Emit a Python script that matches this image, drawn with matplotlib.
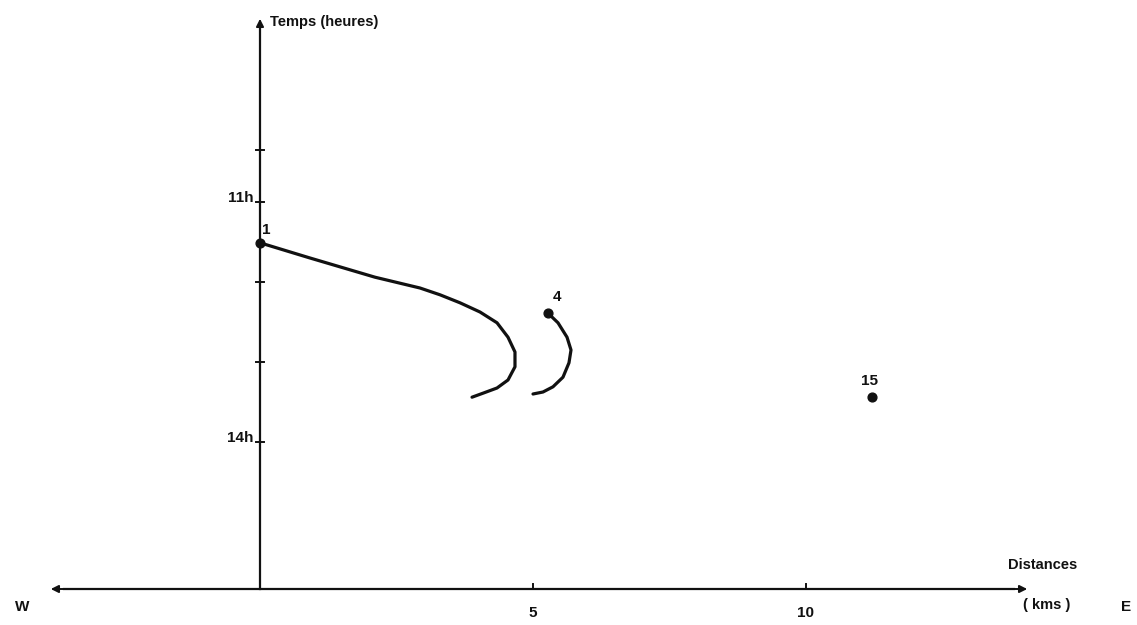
import matplotlib
matplotlib.use("Agg")
import matplotlib.pyplot as plt

##### DATA (distance in km, time in hours)
route1_km = [0.0, 0.916, 2.106, 2.930, 3.297, 3.663, 4.029, 4.341, 4.542, 4.670, 4.670, 4.542, 4.341, 4.084, 3.883]
route1_h = [11.51, 11.70, 11.94, 12.075, 12.16, 12.26, 12.375, 12.51, 12.69, 12.875, 13.06, 13.225, 13.325, 13.39, 13.44]

route4_km = [5.275, 5.458, 5.623, 5.696, 5.659, 5.549, 5.366, 5.183, 5.00]
route4_h = [12.39, 12.51, 12.69, 12.85, 13.01, 13.19, 13.31, 13.375, 13.40]

station_names = ["1", "4", "15"]
station_km = [0.0, 5.275, 11.21]
station_h = [11.51, 12.39, 13.44]

x_ticks = [5, 10]
x_tick_labels = ["5", "10"]
y_ticks = [10.35, 11, 12, 13, 14]
y_tick_labels = {11: "11h", 14: "14h"}

# pixel scale of the original drawing
x0_px, km_px = 260, 54.6
h0_px, h_px = 202, 80.0
W, H = 1137, 625

plt.rcParams['font.family'] = ['Liberation Sans', 'DejaVu Sans']
plt.rcParams['font.weight'] = 'bold'

fig = plt.figure(figsize=(W / 100, H / 100), dpi=100)
ax = fig.add_axes([0, 0, 1, 1])
ax.set_xlim(-x0_px / km_px, (W - x0_px) / km_px)
ax.set_ylim(11 + (H - h0_px) / h_px, 11 - h0_px / h_px)
ax.axis('off')

ink = '#111111'
x_axis_h = 11 + (589 - h0_px) / h_px
y_top_h = 11 + (16 - h0_px) / h_px
x_left = (48 - x0_px) / km_px
x_right = (1030 - x0_px) / km_px

# axes drawn by hand
ax.plot([0, 0], [x_axis_h, y_top_h + 0.1], color=ink, lw=1.6)
ax.annotate('', xy=(0, y_top_h), xytext=(0, y_top_h + 0.2),
            arrowprops=dict(arrowstyle='-|>', color=ink, lw=1.4, mutation_scale=11))
ax.plot([x_left + 0.3, x_right - 0.3], [x_axis_h, x_axis_h], color=ink, lw=1.6)
ax.annotate('', xy=(x_left, x_axis_h), xytext=(x_left + 0.5, x_axis_h),
            arrowprops=dict(arrowstyle='-|>', color=ink, lw=1.4, mutation_scale=11))
ax.annotate('', xy=(x_right, x_axis_h), xytext=(x_right - 0.5, x_axis_h),
            arrowprops=dict(arrowstyle='-|>', color=ink, lw=1.4, mutation_scale=11))

# ticks
for k, lab in zip(x_ticks, x_tick_labels):
    ax.plot([k, k], [x_axis_h, x_axis_h - 0.06], color=ink, lw=1.4)
    ax.text(k, x_axis_h + 0.3, lab, ha='center', va='center', fontsize=11, color=ink)
for t in y_ticks:
    ax.plot([-0.08, 0.08], [t, t], color=ink, lw=1.4)
    if t in y_tick_labels:
        ax.text(-0.12, t - 0.05, y_tick_labels[t], ha='right', va='center', fontsize=11, color=ink)

# trajectories
ax.plot(route1_km, route1_h, color=ink, lw=2.3, solid_capstyle='round', solid_joinstyle='round')
ax.plot(route4_km, route4_h, color=ink, lw=2.3, solid_capstyle='round', solid_joinstyle='round')
ax.scatter(station_km, station_h, s=40, color=ink, zorder=3)
label_offsets = [(0.12, -0.16), (0.17, -0.2), (-0.05, -0.2)]
for name, k, t, (dx, dy) in zip(station_names, station_km, station_h, label_offsets):
    ax.text(k + dx, t + dy, name, ha='center', va='center', fontsize=11, color=ink)

# axis titles
ax.text(0.18, y_top_h + 0.07, "Temps (heures)", ha='left', va='center', fontsize=10.5, color=ink)
ax.text((1043 - x0_px) / km_px, x_axis_h - 0.3, "Distances", ha='center', va='center', fontsize=10.5, color=ink)
ax.text((1047 - x0_px) / km_px, x_axis_h + 0.2, "( kms )", ha='center', va='center', fontsize=10.5, color=ink)
ax.text((22 - x0_px) / km_px, x_axis_h + 0.23, "W", ha='center', va='center', fontsize=11, color=ink)
ax.text((1126 - x0_px) / km_px, x_axis_h + 0.22, "E", ha='center', va='center', fontsize=11, color=ink)

fig.savefig("out.png", dpi=100)
